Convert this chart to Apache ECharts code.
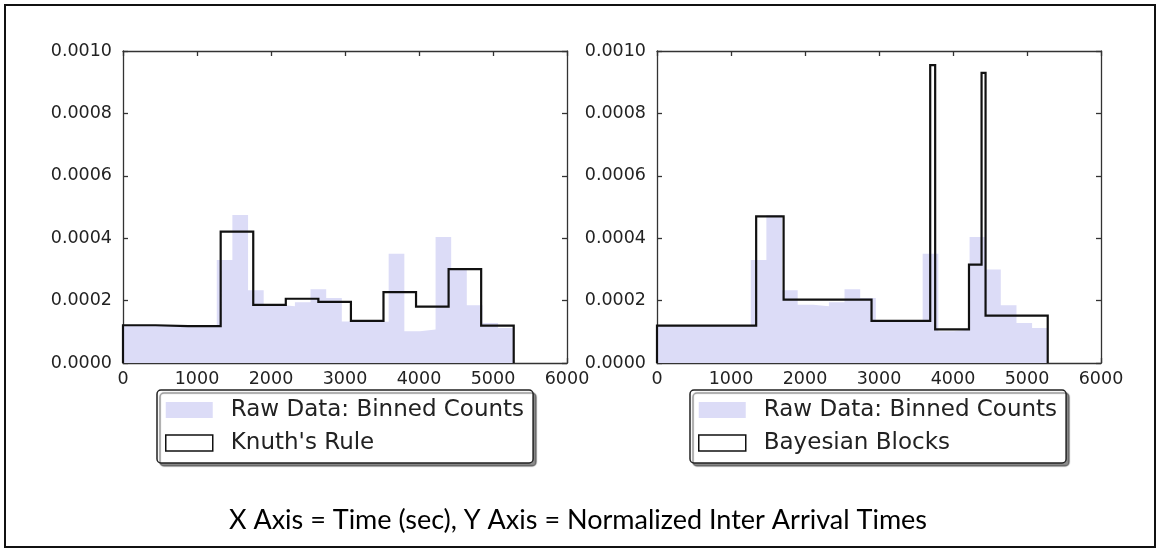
<!DOCTYPE html>
<html>
<head>
<meta charset="utf-8">
<title>Binned counts vs Knuth's Rule and Bayesian Blocks</title>
<script src="https://cdn.jsdelivr.net/npm/echarts@6/dist/echarts.min.js"></script>
<style>
  html, body { margin: 0; padding: 0; background: #fff; }
  #chart { width: 1160px; height: 552px; }
</style>
</head>
<body>
<div id="chart"></div>
<script>
// Raw data: 25 equal-width bins of inter-arrival density
const rawEdges = [0, 211, 422, 634, 845, 1056, 1267, 1478, 1690, 1901, 2112, 2323, 2534,
                  2746, 2957, 3168, 3379, 3590, 3802, 4013, 4224, 4435, 4646, 4858, 5069, 5280];
const rawDensity = [0.000121, 0.000120, 0.000121, 0.000118, 0.000118, 0.000118, 0.000330,
                    0.000474, 0.000233, 0.000187, 0.000182, 0.000195, 0.000236, 0.000208,
                    0.000133, 0.000135, 0.000132, 0.000350, 0.000102, 0.000107, 0.000404,
                    0.000300, 0.000185, 0.000128, 0.000112];

// Knuth's Rule: 12 equal-width bins
const knuthEdges = [0, 440, 880, 1320, 1760, 2200, 2640, 3080, 3520, 3960, 4400, 4840, 5280];
const knuthDensity = [0.000121, 0.000118, 0.000118, 0.000421, 0.000186, 0.000206, 0.000196,
                      0.000135, 0.000227, 0.000181, 0.000301, 0.000120];

// Bayesian Blocks: variable-width blocks
const bayesEdges = [0, 1340, 1711, 2899, 3692, 3759, 4216, 4386, 4440, 5280];
const bayesDensity = [0.000120, 0.000470, 0.000203, 0.000135, 0.000955, 0.000108,
                      0.000315, 0.000930, 0.000152];

// Axis ticks
const xTicks = [0, 1000, 2000, 3000, 4000, 5000, 6000];
const yTicks = [0, 0.0002, 0.0004, 0.0006, 0.0008, 0.0010];

const rawName = 'Raw Data: Binned Counts';
const knuthName = "Knuth's Rule";
const bayesName = 'Bayesian Blocks';
const caption = 'X Axis = Time (sec), Y Axis = Normalized Inter Arrival Times';

const FONT = 'DejaVu Sans';
const INK = '#222';
const FILL = '#dcdcf7';

// Outline of a histogram: up from the baseline, across each bin, back down
function stepOutline(edges, vals) {
  const pts = [[edges[0], 0]];
  for (let i = 0; i < vals.length; i++) {
    pts.push([edges[i], vals[i]], [edges[i + 1], vals[i]]);
  }
  pts.push([edges[edges.length - 1], 0]);
  return pts;
}

const axisLineStyle = { color: '#333', width: 1.3 };

function xAxes(grid) {
  const base = {
    type: 'value', gridIndex: grid,
    min: xTicks[0], max: xTicks[xTicks.length - 1], interval: xTicks[1] - xTicks[0],
    splitLine: { show: false },
    axisLine: { show: true, onZero: false, lineStyle: axisLineStyle },
    axisTick: { show: true, inside: true, length: 5, lineStyle: axisLineStyle }
  };
  return [
    Object.assign({}, base, {
      position: 'bottom',
      axisLabel: { show: true, margin: 7, fontFamily: FONT, fontSize: 17.5, color: INK,
                   formatter: v => String(v) }
    }),
    Object.assign({}, base, { position: 'top', axisLabel: { show: false } })
  ];
}

function yAxes(grid) {
  const base = {
    type: 'value', gridIndex: grid,
    min: yTicks[0], max: yTicks[yTicks.length - 1], interval: yTicks[1] - yTicks[0],
    splitLine: { show: false },
    axisLine: { show: true, onZero: false, lineStyle: axisLineStyle },
    axisTick: { show: true, inside: true, length: 5, lineStyle: axisLineStyle }
  };
  return [
    Object.assign({}, base, {
      position: 'left',
      axisLabel: { show: true, margin: 11, fontFamily: FONT, fontSize: 17.5, color: INK,
                   formatter: v => v.toFixed(4) }
    }),
    Object.assign({}, base, { position: 'right', axisLabel: { show: false } })
  ];
}

function rawSeries(axis) {
  return {
    name: rawName, type: 'line', xAxisIndex: axis, yAxisIndex: axis,
    data: stepOutline(rawEdges, rawDensity),
    symbol: 'none', silent: true, z: 1,
    lineStyle: { width: 0, color: FILL },
    areaStyle: { color: FILL, opacity: 1 },
    itemStyle: { color: FILL }
  };
}

function stepSeries(name, edges, vals, axis) {
  return {
    name: name, type: 'line', xAxisIndex: axis, yAxisIndex: axis,
    data: stepOutline(edges, vals),
    symbol: 'none', silent: true, z: 3,
    lineStyle: { width: 2.2, color: '#111', join: 'miter' },
    itemStyle: { color: '#111' }
  };
}

function legendBox(left, stepName) {
  return {
    left: left, top: 390, orient: 'vertical', selectedMode: false,
    backgroundColor: '#fff', borderColor: '#222', borderWidth: 1.5, borderRadius: 4,
    padding: [8, 9, 8, 8],
    shadowColor: 'rgba(0,0,0,0.45)', shadowOffsetX: 3, shadowOffsetY: 3, shadowBlur: 1,
    itemWidth: 47, itemHeight: 16, itemGap: 9,
    textStyle: { fontFamily: FONT, fontSize: 23, color: INK, lineHeight: 24,
                 padding: [0, 0, 0, 13] },
    data: [
      { name: rawName, icon: 'rect', itemStyle: { color: FILL, borderWidth: 0 } },
      { name: stepName, icon: 'rect',
        itemStyle: { color: '#fff', borderColor: '#111', borderWidth: 1.5 } }
    ]
  };
}

const chart = echarts.init(document.getElementById('chart'), null, { renderer: 'canvas' });

chart.setOption({
  animation: false,
  backgroundColor: '#fff',
  grid: [
    { left: 123, top: 51, width: 444, height: 312 },
    { left: 657, top: 51, width: 444, height: 312 }
  ],
  xAxis: xAxes(0).concat(xAxes(1)),
  yAxis: yAxes(0).concat(yAxes(1)),
  legend: [legendBox(157, knuthName), legendBox(690, bayesName)],
  series: [
    rawSeries(0),
    stepSeries(knuthName, knuthEdges, knuthDensity, 0),
    rawSeries(2),
    stepSeries(bayesName, bayesEdges, bayesDensity, 2)
  ],
  graphic: [
    {
      type: 'rect', silent: true, z: 100,
      shape: { x: 5, y: 5, width: 1150, height: 542 },
      style: { fill: null, stroke: '#111', lineWidth: 2 }
    },
    {
      type: 'text', silent: true,
      style: { x: 578, y: 520, text: caption, font: '27px Lato', fill: '#000',
               align: 'center', verticalAlign: 'middle' }
    }
  ]
});
</script>
</body>
</html>
